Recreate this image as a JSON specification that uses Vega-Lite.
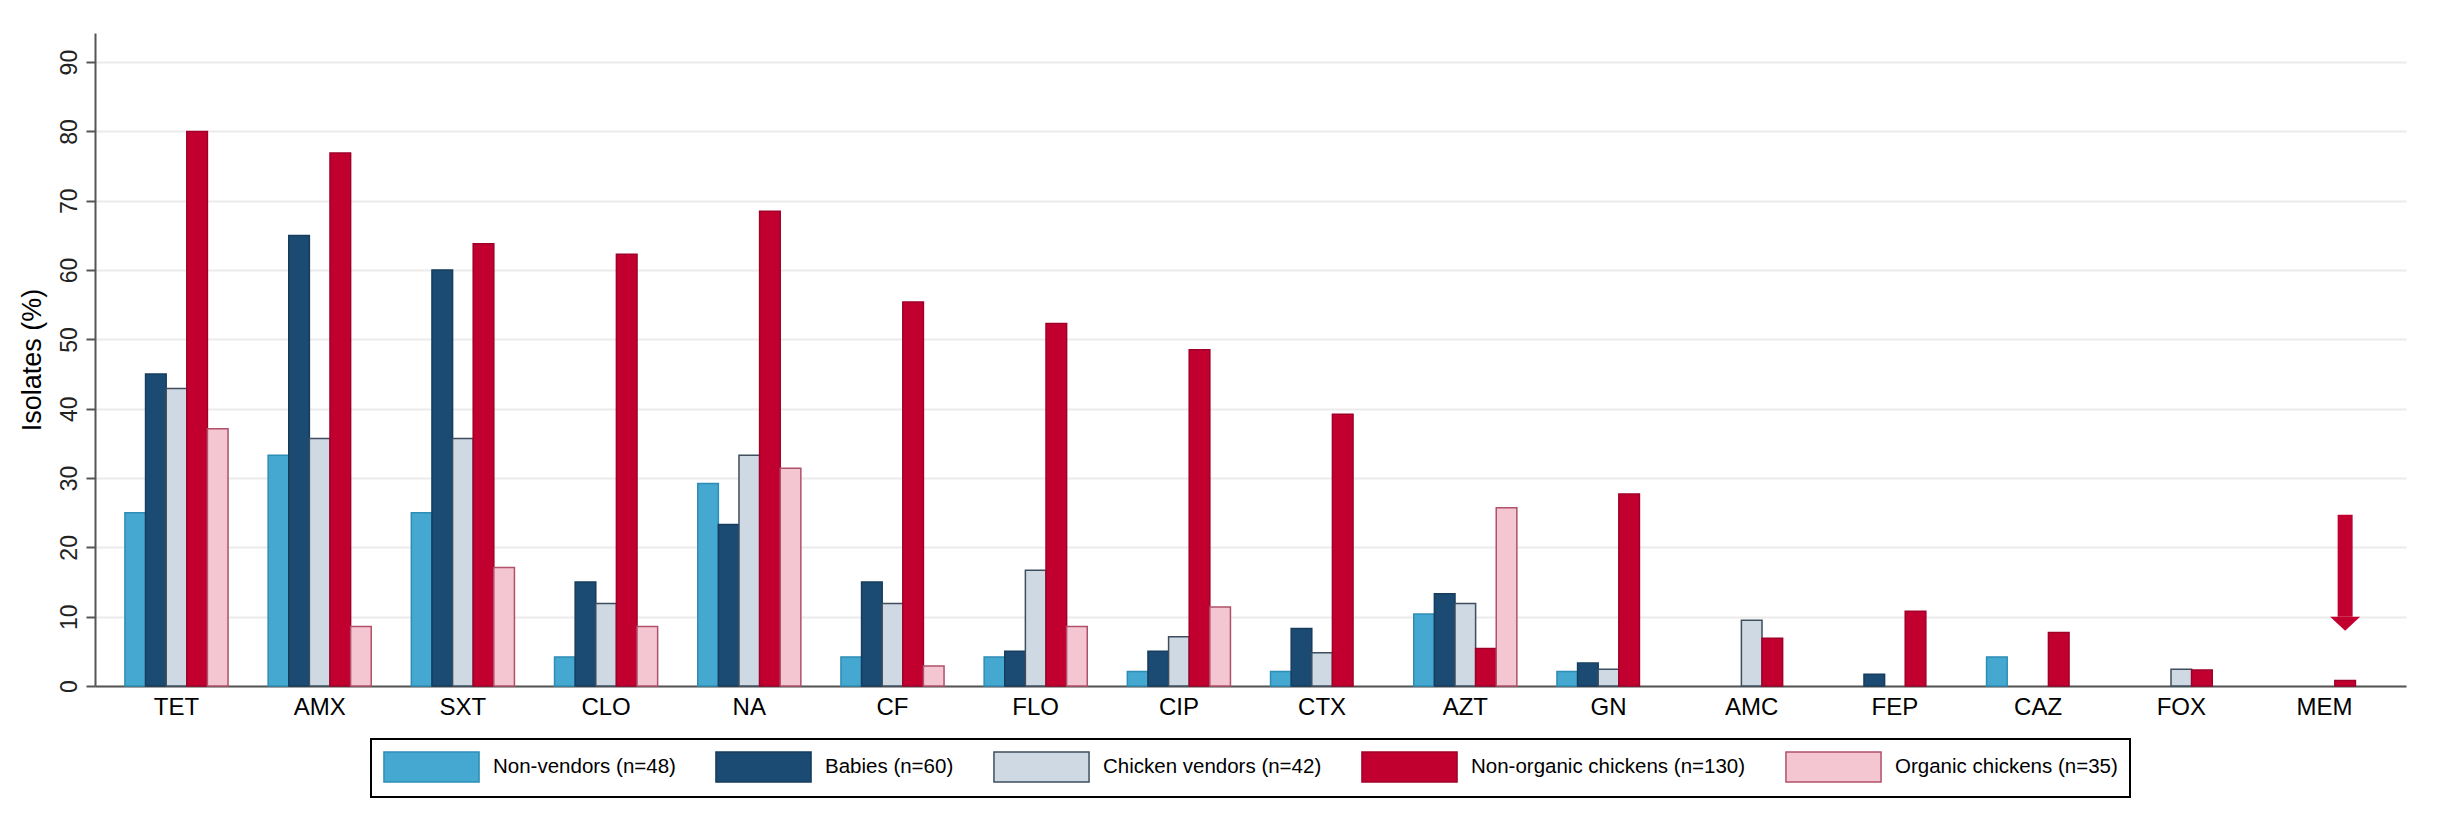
{
  "$schema": "https://vega.github.io/schema/vega-lite/v6.json",
  "width": 2311,
  "height": 653,
  "autosize": {"type": "none"},
  "padding": {"left": 95, "top": 33, "right": 32, "bottom": 143},
  "background": "white",
  "config": {"view": {"stroke": null}, "font": "Liberation Sans", "legend": {"strokeWidth": 2}},
  "datasets": {
    "bars": [
      {"antibiotic": "TET", "group": "Non-vendors (n=48)", "pct": 25.0},
      {"antibiotic": "TET", "group": "Babies (n=60)", "pct": 45.0},
      {"antibiotic": "TET", "group": "Chicken vendors (n=42)", "pct": 42.9},
      {"antibiotic": "TET", "group": "Non-organic chickens (n=130)", "pct": 80.0},
      {"antibiotic": "TET", "group": "Organic chickens (n=35)", "pct": 37.1},
      {"antibiotic": "AMX", "group": "Non-vendors (n=48)", "pct": 33.3},
      {"antibiotic": "AMX", "group": "Babies (n=60)", "pct": 65.0},
      {"antibiotic": "AMX", "group": "Chicken vendors (n=42)", "pct": 35.7},
      {"antibiotic": "AMX", "group": "Non-organic chickens (n=130)", "pct": 76.9},
      {"antibiotic": "AMX", "group": "Organic chickens (n=35)", "pct": 8.6},
      {"antibiotic": "SXT", "group": "Non-vendors (n=48)", "pct": 25.0},
      {"antibiotic": "SXT", "group": "Babies (n=60)", "pct": 60.0},
      {"antibiotic": "SXT", "group": "Chicken vendors (n=42)", "pct": 35.7},
      {"antibiotic": "SXT", "group": "Non-organic chickens (n=130)", "pct": 63.8},
      {"antibiotic": "SXT", "group": "Organic chickens (n=35)", "pct": 17.1},
      {"antibiotic": "CLO", "group": "Non-vendors (n=48)", "pct": 4.2},
      {"antibiotic": "CLO", "group": "Babies (n=60)", "pct": 15.0},
      {"antibiotic": "CLO", "group": "Chicken vendors (n=42)", "pct": 11.9},
      {"antibiotic": "CLO", "group": "Non-organic chickens (n=130)", "pct": 62.3},
      {"antibiotic": "CLO", "group": "Organic chickens (n=35)", "pct": 8.6},
      {"antibiotic": "NA", "group": "Non-vendors (n=48)", "pct": 29.2},
      {"antibiotic": "NA", "group": "Babies (n=60)", "pct": 23.3},
      {"antibiotic": "NA", "group": "Chicken vendors (n=42)", "pct": 33.3},
      {"antibiotic": "NA", "group": "Non-organic chickens (n=130)", "pct": 68.5},
      {"antibiotic": "NA", "group": "Organic chickens (n=35)", "pct": 31.4},
      {"antibiotic": "CF", "group": "Non-vendors (n=48)", "pct": 4.2},
      {"antibiotic": "CF", "group": "Babies (n=60)", "pct": 15.0},
      {"antibiotic": "CF", "group": "Chicken vendors (n=42)", "pct": 11.9},
      {"antibiotic": "CF", "group": "Non-organic chickens (n=130)", "pct": 55.4},
      {"antibiotic": "CF", "group": "Organic chickens (n=35)", "pct": 2.9},
      {"antibiotic": "FLO", "group": "Non-vendors (n=48)", "pct": 4.2},
      {"antibiotic": "FLO", "group": "Babies (n=60)", "pct": 5.0},
      {"antibiotic": "FLO", "group": "Chicken vendors (n=42)", "pct": 16.7},
      {"antibiotic": "FLO", "group": "Non-organic chickens (n=130)", "pct": 52.3},
      {"antibiotic": "FLO", "group": "Organic chickens (n=35)", "pct": 8.6},
      {"antibiotic": "CIP", "group": "Non-vendors (n=48)", "pct": 2.1},
      {"antibiotic": "CIP", "group": "Babies (n=60)", "pct": 5.0},
      {"antibiotic": "CIP", "group": "Chicken vendors (n=42)", "pct": 7.1},
      {"antibiotic": "CIP", "group": "Non-organic chickens (n=130)", "pct": 48.5},
      {"antibiotic": "CIP", "group": "Organic chickens (n=35)", "pct": 11.4},
      {"antibiotic": "CTX", "group": "Non-vendors (n=48)", "pct": 2.1},
      {"antibiotic": "CTX", "group": "Babies (n=60)", "pct": 8.3},
      {"antibiotic": "CTX", "group": "Chicken vendors (n=42)", "pct": 4.8},
      {"antibiotic": "CTX", "group": "Non-organic chickens (n=130)", "pct": 39.2},
      {"antibiotic": "AZT", "group": "Non-vendors (n=48)", "pct": 10.4},
      {"antibiotic": "AZT", "group": "Babies (n=60)", "pct": 13.3},
      {"antibiotic": "AZT", "group": "Chicken vendors (n=42)", "pct": 11.9},
      {"antibiotic": "AZT", "group": "Non-organic chickens (n=130)", "pct": 5.4},
      {"antibiotic": "AZT", "group": "Organic chickens (n=35)", "pct": 25.7},
      {"antibiotic": "GN", "group": "Non-vendors (n=48)", "pct": 2.1},
      {"antibiotic": "GN", "group": "Babies (n=60)", "pct": 3.3},
      {"antibiotic": "GN", "group": "Chicken vendors (n=42)", "pct": 2.4},
      {"antibiotic": "GN", "group": "Non-organic chickens (n=130)", "pct": 27.7},
      {"antibiotic": "AMC", "group": "Chicken vendors (n=42)", "pct": 9.5},
      {"antibiotic": "AMC", "group": "Non-organic chickens (n=130)", "pct": 6.9},
      {"antibiotic": "FEP", "group": "Babies (n=60)", "pct": 1.7},
      {"antibiotic": "FEP", "group": "Non-organic chickens (n=130)", "pct": 10.8},
      {"antibiotic": "CAZ", "group": "Non-vendors (n=48)", "pct": 4.2},
      {"antibiotic": "CAZ", "group": "Non-organic chickens (n=130)", "pct": 7.7},
      {"antibiotic": "FOX", "group": "Chicken vendors (n=42)", "pct": 2.4},
      {"antibiotic": "FOX", "group": "Non-organic chickens (n=130)", "pct": 2.3},
      {"antibiotic": "MEM", "group": "Non-organic chickens (n=130)", "pct": 0.8}
    ],
    "arrow": [
      {"antibiotic": "MEM", "group": "Non-organic chickens (n=130)", "top": 24.7, "head": 10.0}
    ]
  },
  "layer": [
    {
      "data": {"name": "bars"},
      "mark": {"type": "bar", "strokeWidth": 1.5},
      "encoding": {
        "x": {
          "field": "antibiotic",
          "type": "nominal",
          "scale": {
            "domain": ["TET", "AMX", "SXT", "CLO", "NA", "CF", "FLO", "CIP", "CTX", "AZT", "GN", "AMC", "FEP", "CAZ", "FOX", "MEM"],
            "paddingInner": 0.28,
            "paddingOuter": 0.209
          },
          "axis": {
            "title": null,
            "ticks": false,
            "labelAngle": 0,
            "labelFontSize": 24,
            "labelColor": "black",
            "labelPadding": 9,
            "domainColor": "#555555",
            "domainWidth": 2,
            "grid": false
          }
        },
        "xOffset": {
          "field": "group",
          "scale": {"domain": ["Non-vendors (n=48)", "Babies (n=60)", "Chicken vendors (n=42)", "Non-organic chickens (n=130)", "Organic chickens (n=35)"]}
        },
        "y": {
          "field": "pct",
          "type": "quantitative",
          "scale": {"domain": [0, 94.2], "nice": false},
          "axis": {
            "title": "Isolates (%)",
            "values": [0, 10, 20, 30, 40, 50, 60, 70, 80, 90],
            "grid": true,
            "gridColor": "#EBEBEB",
            "gridWidth": 2,
            "domainColor": "#555555",
            "domainWidth": 2,
            "tickColor": "#555555",
            "tickWidth": 2,
            "tickSize": 9,
            "labelAngle": -90,
            "labelAlign": "center",
            "labelBaseline": "bottom",
            "labelFontSize": 23,
            "labelColor": "#222222",
            "labelPadding": 5,
            "titleFontSize": 27,
            "titleFontWeight": "normal",
            "titleColor": "black",
            "titlePadding": 12
          }
        },
        "fill": {
          "field": "group",
          "type": "nominal",
          "scale": {
            "domain": ["Non-vendors (n=48)", "Babies (n=60)", "Chicken vendors (n=42)", "Non-organic chickens (n=130)", "Organic chickens (n=35)"],
            "range": ["#45A8D0", "#1B4A72", "#CFD9E3", "#C20030", "#F4C6D1"]
          },
          "legend": {
            "orient": "none",
            "legendX": 276,
            "legendY": 706,
            "direction": "horizontal",
            "columns": 5,
            "title": null,
            "symbolType": "M-3.17,-1L3.17,-1L3.17,1L-3.17,1Z",
            "symbolSize": 900,
            "symbolOffset": 32.5,
            "symbolStrokeWidth": 1.5,
            "symbolOpacity": 1,
            "labelOffset": 45.5,
            "labelFontSize": 20.5,
            "labelColor": "black",
            "labelLimit": 0,
            "columnPadding": 36,
            "padding": 12,
            "strokeColor": "black"
          }
        },
        "stroke": {
          "field": "group",
          "type": "nominal",
          "scale": {
            "domain": ["Non-vendors (n=48)", "Babies (n=60)", "Chicken vendors (n=42)", "Non-organic chickens (n=130)", "Organic chickens (n=35)"],
            "range": ["#2E8DB5", "#163C5E", "#3E4E5E", "#A00028", "#B0506A"]
          },
          "legend": {
            "orient": "none",
            "legendX": 276,
            "legendY": 706,
            "direction": "horizontal",
            "columns": 5,
            "title": null,
            "symbolType": "M-3.17,-1L3.17,-1L3.17,1L-3.17,1Z",
            "symbolSize": 900,
            "symbolOffset": 32.5,
            "symbolStrokeWidth": 1.5,
            "symbolOpacity": 1,
            "labelOffset": 45.5,
            "labelFontSize": 20.5,
            "labelColor": "black",
            "labelLimit": 0,
            "columnPadding": 36,
            "padding": 12,
            "strokeColor": "black"
          }
        }
      }
    },
    {
      "data": {"name": "arrow"},
      "mark": {"type": "rule", "color": "#C20030", "strokeWidth": 15, "strokeCap": "butt", "xOffset": -4},
      "encoding": {
        "x": {"field": "antibiotic", "type": "nominal"},
        "xOffset": {"field": "group"},
        "y": {"field": "top", "type": "quantitative"},
        "y2": {"field": "head"}
      }
    },
    {
      "data": {"name": "arrow"},
      "mark": {"type": "point", "shape": "M-1,0L1,0L0,0.93Z", "size": 900, "filled": true, "color": "#C20030", "opacity": 1, "strokeWidth": 0, "xOffset": -4},
      "encoding": {
        "x": {"field": "antibiotic", "type": "nominal"},
        "xOffset": {"field": "group"},
        "y": {"field": "head", "type": "quantitative"}
      }
    }
  ]
}
